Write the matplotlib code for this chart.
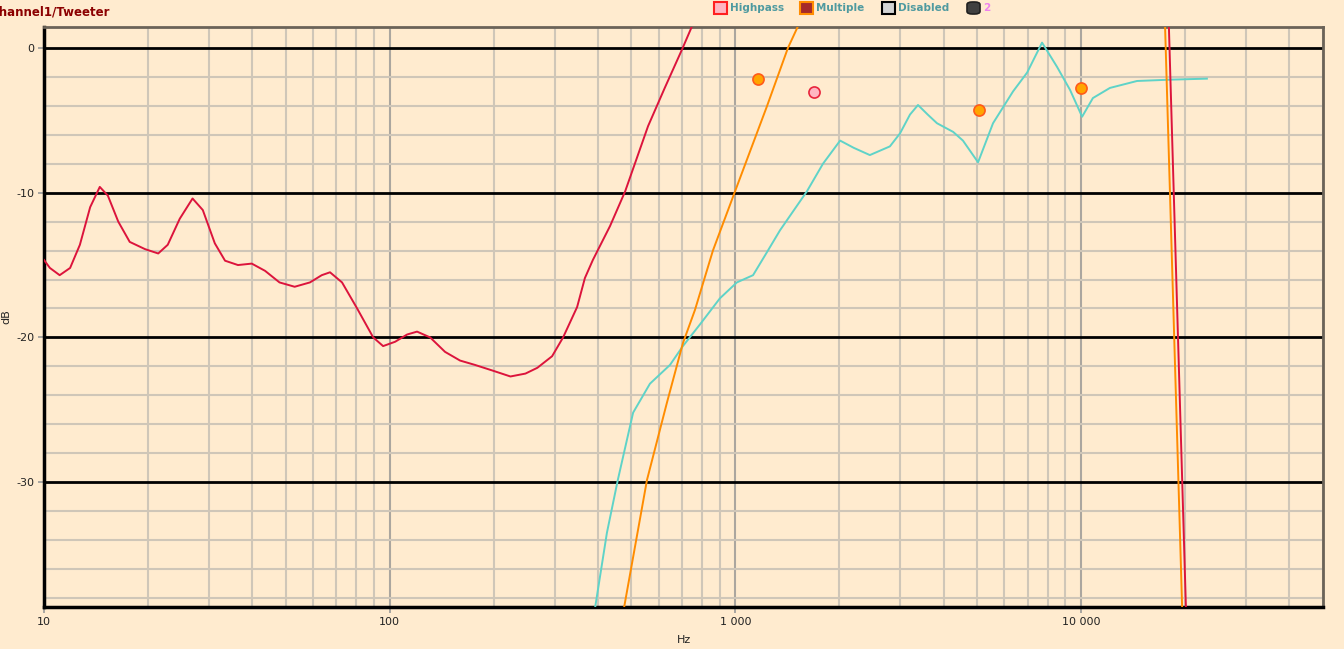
import matplotlib
matplotlib.use('Agg')
import numpy as np
from matplotlib import pyplot as plt
from matplotlib.patches import Rectangle, FancyBboxPatch
from matplotlib.ticker import FixedLocator, NullFormatter

# 数据：频率 (Hz) 和 dB
red_freq = [10, 10.4, 11.1, 11.9, 12.7, 13.6, 14.5, 15.3, 16.4, 17.7, 19.6, 21.4, 22.8, 24.7,
            26.9, 28.8, 31.2, 33.4, 36.4, 39.9, 43.6, 48.0, 53.1, 58.8, 63.6, 67.2, 72.8,
            80.5, 89.6, 95.7, 103.7, 112.3, 120, 130.9, 144.6, 159.8, 176.4, 198.9, 223.5,
            247, 267.4, 295, 317.4, 348.5, 367, 387, 434, 480, 559, 625, 701, 749, 800,
            17000, 17950, 20100, 20500]
red_db = [-14.65, -15.2, -15.7, -15.2, -13.6, -11.0, -9.6, -10.2, -12.0, -13.4, -13.9, -14.2,
          -13.6, -11.8, -10.4, -11.2, -13.5, -14.7, -15.0, -14.9, -15.4, -16.2, -16.5, -16.2,
          -15.7, -15.5, -16.2, -18.0, -20.0, -20.6, -20.3, -19.8, -19.6, -20.0, -21.0, -21.6,
          -21.9, -22.3, -22.7, -22.5, -22.1, -21.3, -20.0, -17.9, -15.9, -14.65, -12.3, -9.9,
          -5.4, -2.75, -0.1, 1.5, 4, 4, 1.45, -38.6, -45]

orange_freq = [470, 477, 555, 634, 705, 764, 861, 998, 1233, 1419, 1517, 1600,
               17000, 17500, 19600, 20000]
orange_db = [-42, -38.6, -29.85, -24.5, -20.4, -18.1, -14.0, -9.9, -4.05, 0, 1.5, 3,
             3, 1.45, -38.6, -45]

cyan_freq = [385, 425, 457, 506, 566, 647, 705, 790, 902, 1010, 1125, 1242, 1346, 1611, 1792,
             2009, 2200, 2449, 2799, 2994, 3200, 3375, 3600, 3830, 4266, 4553, 5035, 5563,
             6357, 6982, 7711, 8518, 9293, 10070, 10820, 12120, 14520, 18080, 23120]
cyan_db = [-40, -33.5, -29.85, -25.2, -23.2, -21.9, -20.6, -19.1, -17.3, -16.2, -15.7, -14.0,
           -12.6, -9.9, -8.0, -6.4, -6.9, -7.4, -6.8, -5.9, -4.6, -3.94, -4.6, -5.2, -5.8,
           -6.4, -7.9, -5.2, -3.0, -1.7, 0.37, -1.3, -2.9, -4.75, -3.46, -2.76, -2.28, -2.19,
           -2.12]

# 点
orange_pts_freq = [1159, 5080, 9980]
orange_pts_db = [-2.12, -4.28, -2.74]
pink_pts_freq = [1690]
pink_pts_db = [-3.02]

bg = '#ffebcf'
W, H = 1344, 649

fig = plt.figure(figsize=(W / 100, H / 100), dpi=100, facecolor=bg)
ax = fig.add_axes([44 / W, (H - 607) / H, (1323 - 44) / W, (607 - 27) / H], facecolor=bg)

ax.set_xscale('log')
ax.set_xlim(10, 50100)
ax.set_ylim(-38.63, 1.45)

# 网格
minor_x = [m * 10 ** d for d in range(1, 5) for m in range(2, 10) if m * 10 ** d < 50100]
for xv in minor_x:
    ax.axvline(xv, color='#cfc6b8', lw=1.5, zorder=0)
for xv in [100, 1000, 10000]:
    ax.axvline(xv, color='#aba69f', lw=1.5, zorder=0)
for yv in np.arange(-38, 1, 2):
    if yv % 10 == 0:
        ax.axhline(yv, color='black', lw=2, zorder=1)
    else:
        ax.axhline(yv, color='#cfc6b8', lw=1.5, zorder=0)

ax.plot(cyan_freq, cyan_db, color='#5fd3c8', lw=1.4, zorder=3)
ax.plot(orange_freq, orange_db, color='#ff8c00', lw=1.4, zorder=4)
ax.plot(red_freq, red_db, color='#dc143c', lw=1.4, zorder=5)

ax.plot(orange_pts_freq, orange_pts_db, 'o', ms=8, mfc='#ffa500', mec='#ff5a1a', mew=1.2, zorder=6)
ax.plot(pink_pts_freq, pink_pts_db, 'o', ms=8, mfc='#ffb6c1', mec='#e8243c', mew=1.2, zorder=6)

# 坐标轴
ax.xaxis.set_major_locator(FixedLocator([10, 100, 1000, 10000]))
ax.xaxis.set_minor_locator(FixedLocator([]))
ax.xaxis.set_minor_formatter(NullFormatter())
ax.set_xticklabels(['10', '100', '1 000', '10 000'])
ax.set_yticks([0, -10, -20, -30])
ax.set_yticklabels(['0', '-10', '-20', '-30'])
ax.tick_params(axis='both', labelsize=8, colors='#9a9a9a', labelcolor='#222222',
               length=4, width=1.2, pad=3)

for s in ['left', 'bottom']:
    ax.spines[s].set_color('black')
    ax.spines[s].set_linewidth(2.5)
for s in ['top', 'right']:
    ax.spines[s].set_color('#6b6358')
    ax.spines[s].set_linewidth(2)

ax.set_xlabel('Hz', fontsize=8, color='#222222', labelpad=6)
ax.set_ylabel('dB', fontsize=8, color='#222222')
ax.yaxis.set_label_coords(-33 / 1279, 0.5)

# 标题（左侧被截断，和原图一样）
fig.text(-10 / W, 1 - 12 / H, 'Channel1/Tweeter', color='#8b0000', fontsize=8.5,
         fontweight='bold', va='center', ha='left')

# 图例
def box(x, fc, ec, rounded=False):
    if rounded:
        p = FancyBboxPatch((x / W, 1 - 14 / H), 13 / W, 12 / H,
                           boxstyle='round,pad=0,rounding_size=0.004',
                           transform=fig.transFigure, fc=fc, ec=ec, lw=1.2)
    else:
        p = Rectangle((x / W, 1 - 14 / H), 13 / W, 12 / H, transform=fig.transFigure,
                      fc=fc, ec=ec, lw=1.5)
    fig.patches.append(p)

legend_items = [(714, '#ffb6c1', '#ff2020', 'Highpass', '#4f9aa0', False),
                (800, '#a52a2a', '#ff8c00', 'Multiple', '#4f9aa0', False),
                (882, '#d3d3d3', '#000000', 'Disabled', '#4f9aa0', False),
                (967, '#404040', '#202020', '2', '#ee82ee', True)]
for x, fc, ec, label, tc, rnd in legend_items:
    box(x, fc, ec, rnd)
    fig.text((x + 16) / W, 1 - 8 / H, label, color=tc, fontsize=7.5, fontweight='bold',
             va='center', ha='left')

fig.savefig('out.png', dpi=100, facecolor=bg)
